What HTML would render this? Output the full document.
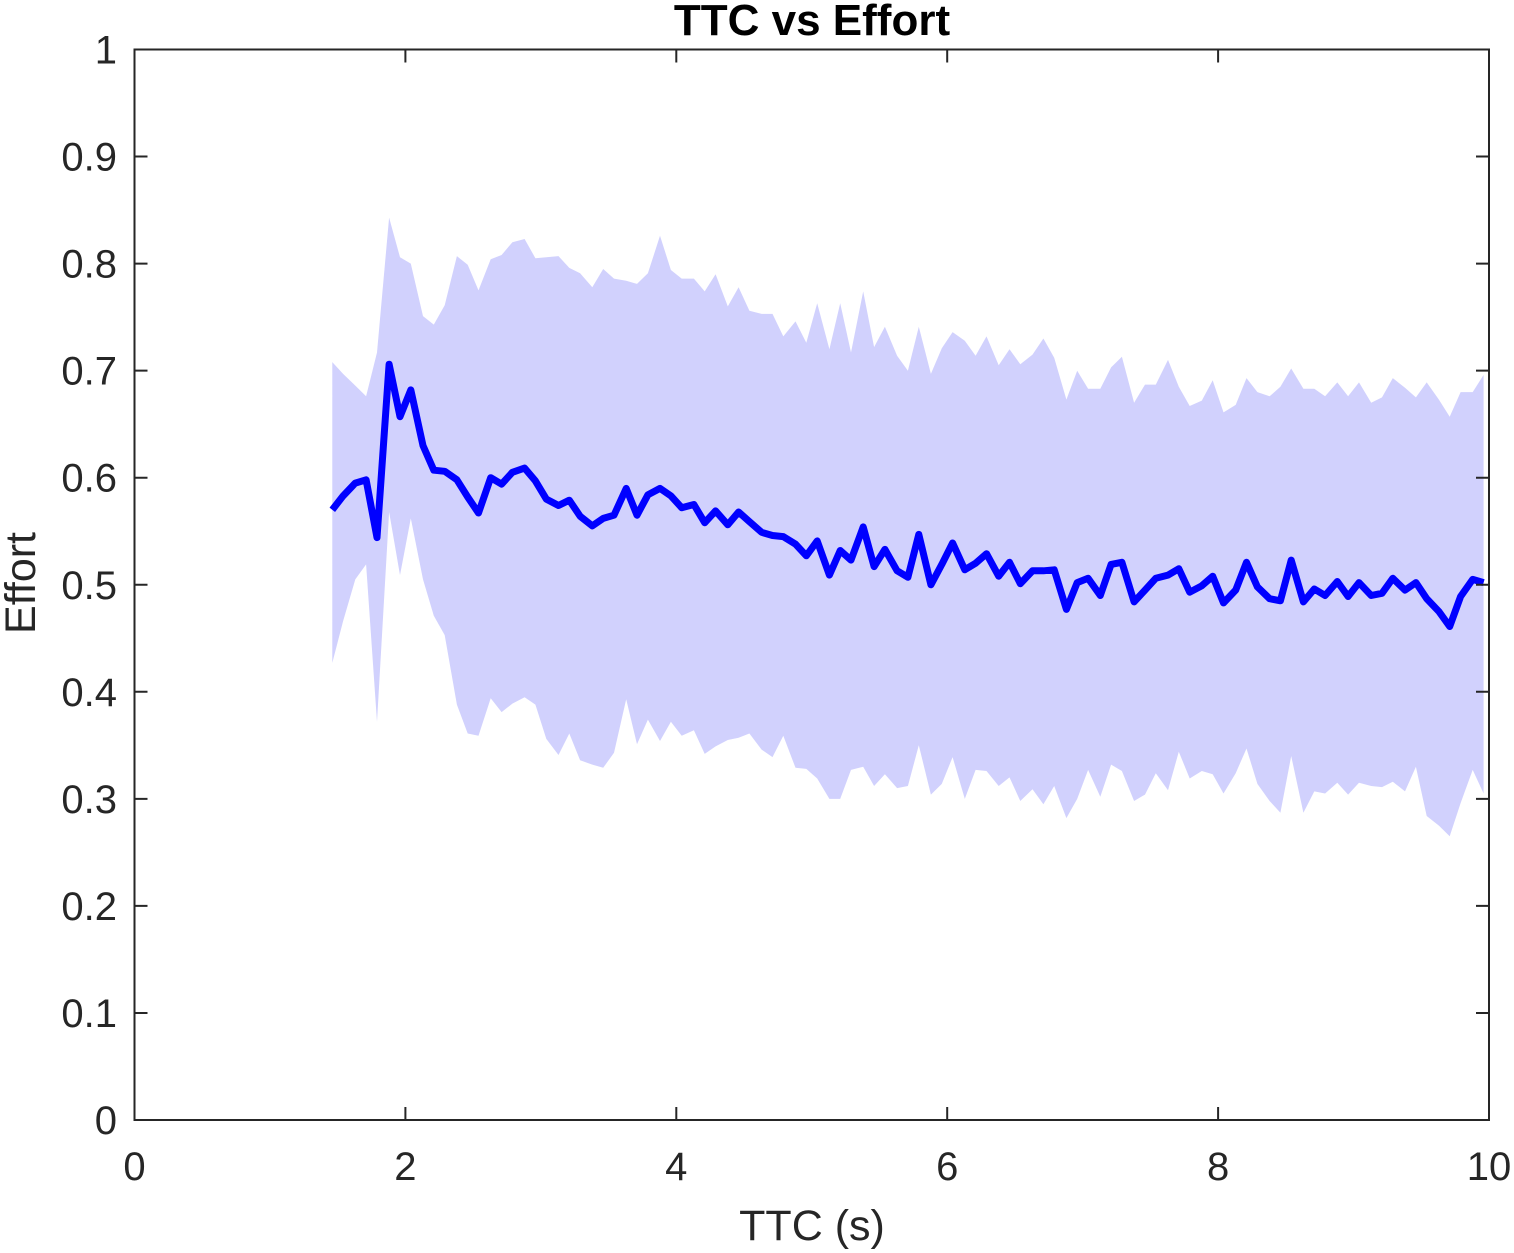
<!DOCTYPE html>
<html><head><meta charset="utf-8"><style>
html,body{margin:0;padding:0;background:#fff;}
svg{display:block;font-family:"Liberation Sans",Arial,sans-serif;}
</style></head><body>
<svg id="chart" width="1514" height="1253" viewBox="0 0 1514 1253" xmlns="http://www.w3.org/2000/svg">
<rect x="0" y="0" width="1514" height="1253" fill="#fff"/>
<rect x="134.5" y="49.5" width="1354.5" height="1070.5" fill="#fff"/>
<g id="band"></g>
<g id="line"></g>
<g id="axes"></g>
<text x="812" y="35" text-anchor="middle" font-size="44" font-weight="bold" fill="#000">TTC vs Effort</text>
<text x="812" y="1240" text-anchor="middle" font-size="43" fill="#262626">TTC (s)</text>
<text x="35" y="583" text-anchor="middle" font-size="43" fill="#262626" transform="rotate(-90 35 583)">Effort</text>
</svg>
<script>
const ttc = [1.46,1.54,1.63,1.71,1.79,1.88,1.96,
2.04,2.13,2.21,2.29,2.38,2.46,2.54,2.63,2.71,2.79,2.88,2.96,
3.04,3.13,3.21,3.29,3.38,3.46,3.54,3.63,3.71,3.79,3.88,3.96,
4.04,4.13,4.21,4.29,4.38,4.46,4.54,4.63,4.71,4.79,4.88,4.96,
5.04,5.13,5.21,5.29,5.38,5.46,5.54,5.63,5.71,5.79,5.88,5.96,
6.04,6.13,6.21,6.29,6.38,6.46,6.54,6.63,6.71,6.79,6.88,6.96,
7.04,7.13,7.21,7.29,7.38,7.46,7.54,7.63,7.71,7.79,7.88,7.96,
8.04,8.13,8.21,8.29,8.38,8.46,8.54,8.63,8.71,8.79,8.88,8.96,
9.04,9.13,9.21,9.29,9.38,9.46,9.54,9.63,9.71,9.79,9.88,9.96];
const meanEffort = [0.570,0.583,0.595,0.598,0.544,0.706,0.657,0.682,0.630,0.607,
0.606,0.598,0.582,0.567,0.600,0.594,0.605,0.609,0.597,0.580,
0.574,0.579,0.564,0.555,0.562,0.565,0.590,0.565,0.584,0.590,
0.583,0.572,0.575,0.558,0.569,
0.556,0.568,0.559,0.549,0.546,0.545,0.538,0.527,0.541,0.509,
0.532,0.523,0.554,0.517,0.533,0.513,0.507,0.547,0.500,0.519,
0.539,0.514,0.520,0.529,0.508,0.521,0.501,0.513,0.513,0.514,
0.477,0.502,0.506,0.490,
0.519,0.521,0.484,0.495,0.506,0.509,0.515,0.493,0.499,0.508,
0.483,0.495,0.521,0.498,0.487,0.485,0.523,0.484,0.496,0.490,
0.503,0.489,0.502,0.490,0.492,0.506,0.495,0.502,0.487,0.475,
0.461,0.489,0.505,0.502];
const upperEffort = [0.708,0.697,0.686,0.676,0.717,0.843,0.806,0.800,0.751,0.743,
0.761,0.807,0.799,0.775,0.804,0.808,0.820,0.823,0.805,0.806,
0.807,0.796,0.791,0.778,0.795,0.786,0.784,0.781,0.791,0.826,
0.794,0.786,0.786,0.774,0.790,
0.760,0.778,0.756,0.753,0.753,0.732,0.746,0.726,0.763,0.720,
0.763,0.717,0.774,0.722,0.741,0.714,0.700,0.741,0.697,0.721,
0.736,0.728,0.714,0.732,0.705,0.720,0.706,0.715,0.730,0.712,
0.673,0.700,0.683,0.683,
0.703,0.713,0.670,0.687,0.687,0.710,0.685,0.667,0.672,0.691,
0.661,0.668,0.693,0.680,0.676,0.685,0.702,0.683,0.683,0.676,
0.689,0.676,0.689,0.670,0.675,0.693,0.684,0.675,0.689,0.673,
0.657,0.680,0.680,0.696];
const lowerEffort = [0.427,0.466,0.505,0.519,0.372,0.568,0.509,0.562,0.505,0.471,
0.453,0.388,0.361,0.359,0.394,0.381,0.389,0.395,0.388,0.356,
0.341,0.361,0.336,0.332,0.329,0.343,0.393,0.351,0.374,0.354,
0.372,0.359,0.364,0.342,0.349,
0.355,0.357,0.361,0.346,0.339,0.359,0.329,0.328,0.319,0.300,
0.300,0.327,0.330,0.312,0.323,0.310,0.312,0.350,0.304,0.314,
0.339,0.300,0.327,0.326,0.312,0.320,0.298,0.309,0.295,0.312,
0.282,0.300,0.327,0.302,
0.332,0.326,0.298,0.304,0.324,0.308,0.344,0.319,0.326,0.323,
0.305,0.324,0.347,0.314,0.298,0.287,0.340,0.287,0.307,0.305,
0.315,0.304,0.315,0.312,0.311,0.316,0.307,0.330,0.284,0.275,
0.265,0.296,0.327,0.305];
const xTicks = [0,2,4,6,8,10];
const xTickLabels = ["0","2","4","6","8","10"];
const yTicks = [0,0.1,0.2,0.3,0.4,0.5,0.6,0.7,0.8,0.9,1];
const yTickLabels = ["0","0.1","0.2","0.3","0.4","0.5","0.6","0.7","0.8","0.9","1"];

const L=134.5,R=1489,T=49.5,B=1120;
function xs(v){return L+(v-0)/(10-0)*(R-L);}
function ys(v){return B-(v-0)/(1-0)*(B-T);}
const NS="http://www.w3.org/2000/svg";

const band=document.getElementById('band');
let pts=[];
for(let i=0;i<ttc.length;i++)pts.push(xs(ttc[i]).toFixed(1)+','+ys(upperEffort[i]).toFixed(1));
for(let i=ttc.length-1;i>=0;i--)pts.push(xs(ttc[i]).toFixed(1)+','+ys(lowerEffort[i]).toFixed(1));
const poly=document.createElementNS(NS,'polygon');
poly.setAttribute('points',pts.join(' '));
poly.setAttribute('fill','#d1d1fd');


band.appendChild(poly);

const lineG=document.getElementById('line');
const pl=document.createElementNS(NS,'polyline');
pl.setAttribute('points',ttc.map((x,i)=>xs(x).toFixed(1)+','+ys(meanEffort[i]).toFixed(1)).join(' '));
pl.setAttribute('fill','none');
pl.setAttribute('stroke','#0000ff');
pl.setAttribute('stroke-width','7');
pl.setAttribute('stroke-linejoin','round');


lineG.appendChild(pl);

const axes=document.getElementById('axes');
const frame=document.createElementNS(NS,'rect');
frame.setAttribute('x',L);frame.setAttribute('y',T);
frame.setAttribute('width',R-L);frame.setAttribute('height',B-T);
frame.setAttribute('fill','none');frame.setAttribute('stroke','#262626');frame.setAttribute('stroke-width','2');


axes.appendChild(frame);
const TL=13;
xTicks.forEach((v,i)=>{
  const x=xs(v);
  const t=document.createElementNS(NS,'path');
  t.setAttribute('d',`M${x},${B}V${B-TL}M${x},${T}V${T+TL}`);
  t.setAttribute('stroke','#262626');t.setAttribute('stroke-width','2');
  
  
  axes.appendChild(t);
  const lb=document.createElementNS(NS,'text');
  lb.setAttribute('x',x);lb.setAttribute('y',1180);
  lb.setAttribute('text-anchor','middle');lb.setAttribute('font-size','40');lb.setAttribute('fill','#262626');
  lb.textContent=xTickLabels[i];
  
  
  axes.appendChild(lb);
});
yTicks.forEach((v,i)=>{
  const y=ys(v);
  const t=document.createElementNS(NS,'path');
  t.setAttribute('d',`M${L},${y}H${L+TL}M${R},${y}H${R-TL}`);
  t.setAttribute('stroke','#262626');t.setAttribute('stroke-width','2');
  
  
  axes.appendChild(t);
  const lb=document.createElementNS(NS,'text');
  lb.setAttribute('x',117);lb.setAttribute('y',y+14);
  lb.setAttribute('text-anchor','end');lb.setAttribute('font-size','40');lb.setAttribute('fill','#262626');
  lb.textContent=yTickLabels[i];
  
  
  axes.appendChild(lb);
});
</script>
</body></html>
